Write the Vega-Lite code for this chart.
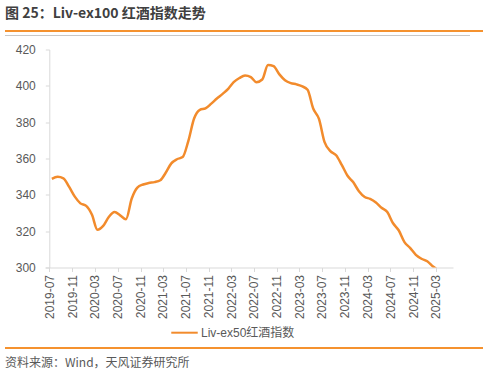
{
  "$schema": "https://vega.github.io/schema/vega-lite/v6.json",
  "padding": {"left": 5, "top": 7, "right": 5, "bottom": 3},
  "background": "white",
  "title": {"text": "图 25：Liv-ex100 红酒指数走势", "anchor": "start", "fontSize": 14, "fontWeight": "bold", "color": "#404040", "font": "Noto Sans CJK SC", "offset": 9},
  "config": {"view": {"stroke": null}, "font": "Noto Sans CJK SC"},
  "resolve": {"legend": {"color": "independent"}},
  "datasets": {
    "liv": [
      {"date": "2019-07-15", "value": 348.8, "series": "Liv-ex50红酒指数"},
      {"date": "2019-08-15", "value": 349.9, "series": "Liv-ex50红酒指数"},
      {"date": "2019-09-15", "value": 349.1, "series": "Liv-ex50红酒指数"},
      {"date": "2019-10-15", "value": 344.5, "series": "Liv-ex50红酒指数"},
      {"date": "2019-11-15", "value": 339.0, "series": "Liv-ex50红酒指数"},
      {"date": "2019-12-15", "value": 335.3, "series": "Liv-ex50红酒指数"},
      {"date": "2020-01-15", "value": 333.9, "series": "Liv-ex50红酒指数"},
      {"date": "2020-02-15", "value": 329.0, "series": "Liv-ex50红酒指数"},
      {"date": "2020-03-15", "value": 320.8, "series": "Liv-ex50红酒指数"},
      {"date": "2020-04-15", "value": 322.9, "series": "Liv-ex50红酒指数"},
      {"date": "2020-05-15", "value": 327.8, "series": "Liv-ex50红酒指数"},
      {"date": "2020-06-15", "value": 330.5, "series": "Liv-ex50红酒指数"},
      {"date": "2020-07-15", "value": 328.7, "series": "Liv-ex50红酒指数"},
      {"date": "2020-08-15", "value": 326.6, "series": "Liv-ex50红酒指数"},
      {"date": "2020-09-15", "value": 338.0, "series": "Liv-ex50红酒指数"},
      {"date": "2020-10-15", "value": 344.0, "series": "Liv-ex50红酒指数"},
      {"date": "2020-11-15", "value": 345.7, "series": "Liv-ex50红酒指数"},
      {"date": "2020-12-15", "value": 346.5, "series": "Liv-ex50红酒指数"},
      {"date": "2021-01-15", "value": 347.0, "series": "Liv-ex50红酒指数"},
      {"date": "2021-02-15", "value": 348.0, "series": "Liv-ex50红酒指数"},
      {"date": "2021-03-15", "value": 352.0, "series": "Liv-ex50红酒指数"},
      {"date": "2021-04-15", "value": 357.3, "series": "Liv-ex50红酒指数"},
      {"date": "2021-05-15", "value": 359.6, "series": "Liv-ex50红酒指数"},
      {"date": "2021-06-15", "value": 360.8, "series": "Liv-ex50红酒指数"},
      {"date": "2021-07-15", "value": 369.6, "series": "Liv-ex50红酒指数"},
      {"date": "2021-08-15", "value": 382.0, "series": "Liv-ex50红酒指数"},
      {"date": "2021-09-15", "value": 386.8, "series": "Liv-ex50红酒指数"},
      {"date": "2021-10-15", "value": 387.6, "series": "Liv-ex50红酒指数"},
      {"date": "2021-11-15", "value": 390.2, "series": "Liv-ex50红酒指数"},
      {"date": "2021-12-15", "value": 393.0, "series": "Liv-ex50红酒指数"},
      {"date": "2022-01-15", "value": 395.6, "series": "Liv-ex50红酒指数"},
      {"date": "2022-02-15", "value": 398.5, "series": "Liv-ex50红酒指数"},
      {"date": "2022-03-15", "value": 402.0, "series": "Liv-ex50红酒指数"},
      {"date": "2022-04-15", "value": 404.3, "series": "Liv-ex50红酒指数"},
      {"date": "2022-05-15", "value": 405.7, "series": "Liv-ex50红酒指数"},
      {"date": "2022-06-15", "value": 404.8, "series": "Liv-ex50红酒指数"},
      {"date": "2022-07-15", "value": 402.0, "series": "Liv-ex50红酒指数"},
      {"date": "2022-08-15", "value": 403.5, "series": "Liv-ex50红酒指数"},
      {"date": "2022-09-15", "value": 411.5, "series": "Liv-ex50红酒指数"},
      {"date": "2022-10-15", "value": 410.8, "series": "Liv-ex50红酒指数"},
      {"date": "2022-11-15", "value": 406.3, "series": "Liv-ex50红酒指数"},
      {"date": "2022-12-15", "value": 403.1, "series": "Liv-ex50红酒指数"},
      {"date": "2023-01-15", "value": 401.5, "series": "Liv-ex50红酒指数"},
      {"date": "2023-02-15", "value": 400.8, "series": "Liv-ex50红酒指数"},
      {"date": "2023-03-15", "value": 399.8, "series": "Liv-ex50红酒指数"},
      {"date": "2023-04-15", "value": 397.8, "series": "Liv-ex50红酒指数"},
      {"date": "2023-05-15", "value": 387.5, "series": "Liv-ex50红酒指数"},
      {"date": "2023-06-15", "value": 381.8, "series": "Liv-ex50红酒指数"},
      {"date": "2023-07-15", "value": 369.0, "series": "Liv-ex50红酒指数"},
      {"date": "2023-08-15", "value": 364.1, "series": "Liv-ex50红酒指数"},
      {"date": "2023-09-15", "value": 361.8, "series": "Liv-ex50红酒指数"},
      {"date": "2023-10-15", "value": 356.5, "series": "Liv-ex50红酒指数"},
      {"date": "2023-11-15", "value": 350.5, "series": "Liv-ex50红酒指数"},
      {"date": "2023-12-15", "value": 347.0, "series": "Liv-ex50红酒指数"},
      {"date": "2024-01-15", "value": 342.0, "series": "Liv-ex50红酒指数"},
      {"date": "2024-02-15", "value": 338.8, "series": "Liv-ex50红酒指数"},
      {"date": "2024-03-15", "value": 337.8, "series": "Liv-ex50红酒指数"},
      {"date": "2024-04-15", "value": 335.8, "series": "Liv-ex50红酒指数"},
      {"date": "2024-05-15", "value": 332.9, "series": "Liv-ex50红酒指数"},
      {"date": "2024-06-15", "value": 330.5, "series": "Liv-ex50红酒指数"},
      {"date": "2024-07-15", "value": 324.5, "series": "Liv-ex50红酒指数"},
      {"date": "2024-08-15", "value": 320.5, "series": "Liv-ex50红酒指数"},
      {"date": "2024-09-15", "value": 314.0, "series": "Liv-ex50红酒指数"},
      {"date": "2024-10-15", "value": 310.8, "series": "Liv-ex50红酒指数"},
      {"date": "2024-11-15", "value": 307.0, "series": "Liv-ex50红酒指数"},
      {"date": "2024-12-15", "value": 304.8, "series": "Liv-ex50红酒指数"},
      {"date": "2025-01-15", "value": 303.4, "series": "Liv-ex50红酒指数"},
      {"date": "2025-02-15", "value": 300.5, "series": "Liv-ex50红酒指数"},
      {"date": "2025-03-15", "value": 298.5, "series": "Liv-ex50红酒指数"}
    ],
    "empty": []
  },
  "spacing": 7.5,
  "vconcat": [
    {
      "spacing": 3,
      "vconcat": [
        {"width": 478, "height": 2, "data": {"name": "empty"}, "mark": {"type": "rule"}, "encoding": {}, "view": {"fill": "#F5922F", "stroke": null}},
        {"width": 465, "height": 1, "data": {"name": "empty"}, "mark": {"type": "rule"}, "encoding": {}, "view": {"fill": "#C8C8C8", "stroke": null}}
      ]
    },
    {
      "width": 448,
      "height": 218,
      "data": {"name": "liv"},
      "mark": {"type": "line", "interpolate": "monotone", "strokeWidth": 2.5, "clip": true},
      "encoding": {
        "x": {
          "field": "date", "type": "temporal",
          "scale": {"type": "utc", "domain": [{"year": 2018, "month": 11, "date": 6, "utc": true}, {"year": 2025, "month": 6, "date": 2, "utc": true}]},
          "axis": {
            "title": null, "grid": false, "domain": true, "domainColor": "#D9D9D9", "domainDash": [0, 40, 410, 10],
            "format": "%Y-%m", "labelAngle": -90,
            "values": [
              {"year": 2019, "month": 7, "date": 1, "utc": true},
              {"year": 2019, "month": 11, "date": 1, "utc": true},
              {"year": 2020, "month": 3, "date": 1, "utc": true},
              {"year": 2020, "month": 7, "date": 1, "utc": true},
              {"year": 2020, "month": 11, "date": 1, "utc": true},
              {"year": 2021, "month": 3, "date": 1, "utc": true},
              {"year": 2021, "month": 7, "date": 1, "utc": true},
              {"year": 2021, "month": 11, "date": 1, "utc": true},
              {"year": 2022, "month": 3, "date": 1, "utc": true},
              {"year": 2022, "month": 7, "date": 1, "utc": true},
              {"year": 2022, "month": 11, "date": 1, "utc": true},
              {"year": 2023, "month": 3, "date": 1, "utc": true},
              {"year": 2023, "month": 7, "date": 1, "utc": true},
              {"year": 2023, "month": 11, "date": 1, "utc": true},
              {"year": 2024, "month": 3, "date": 1, "utc": true},
              {"year": 2024, "month": 7, "date": 1, "utc": true},
              {"year": 2024, "month": 11, "date": 1, "utc": true},
              {"year": 2025, "month": 3, "date": 1, "utc": true}
            ],
            "tickColor": "#D9D9D9", "tickSize": 4,
            "labelColor": "#595959", "labelFontSize": 12, "labelFont": "Liberation Sans", "labelPadding": 3,
            "labelOverlap": false, "labelFlush": false
          }
        },
        "y": {
          "field": "value", "type": "quantitative",
          "scale": {"domain": [300, 420], "zero": false, "nice": false},
          "axis": {
            "title": null, "grid": false, "values": [300, 320, 340, 360, 380, 400, 420], "offset": -44.3,
            "domainColor": "#D9D9D9", "tickColor": "#D9D9D9", "tickSize": 4,
            "labelColor": "#595959", "labelFontSize": 12, "labelFont": "Liberation Sans", "labelPadding": 10,
            "labelOverlap": false, "labelFlush": false
          }
        },
        "color": {
          "field": "series", "type": "nominal",
          "scale": {"range": ["#F28B2C"]},
          "legend": {
            "title": null, "orient": "none", "legendX": 165, "legendY": 268.7, "direction": "horizontal", "symbolType": "stroke",
            "symbolSize": 700, "symbolStrokeWidth": 2, "labelFontSize": 12, "labelColor": "#595959",
            "labelFont": "Liberation Sans, Noto Sans CJK SC", "padding": 0, "labelOffset": 2
          }
        }
      }
    },
    {
      "width": 478, "height": 2, "data": {"name": "empty"}, "mark": {"type": "rule"}, "encoding": {},
      "view": {"fill": "#F5922F", "stroke": null},
      "title": {"text": "资料来源：Wind，天风证券研究所", "orient": "bottom", "anchor": "start", "fontSize": 12, "fontWeight": "normal", "color": "#595959", "font": "Noto Sans CJK SC", "offset": 9}
    }
  ]
}
